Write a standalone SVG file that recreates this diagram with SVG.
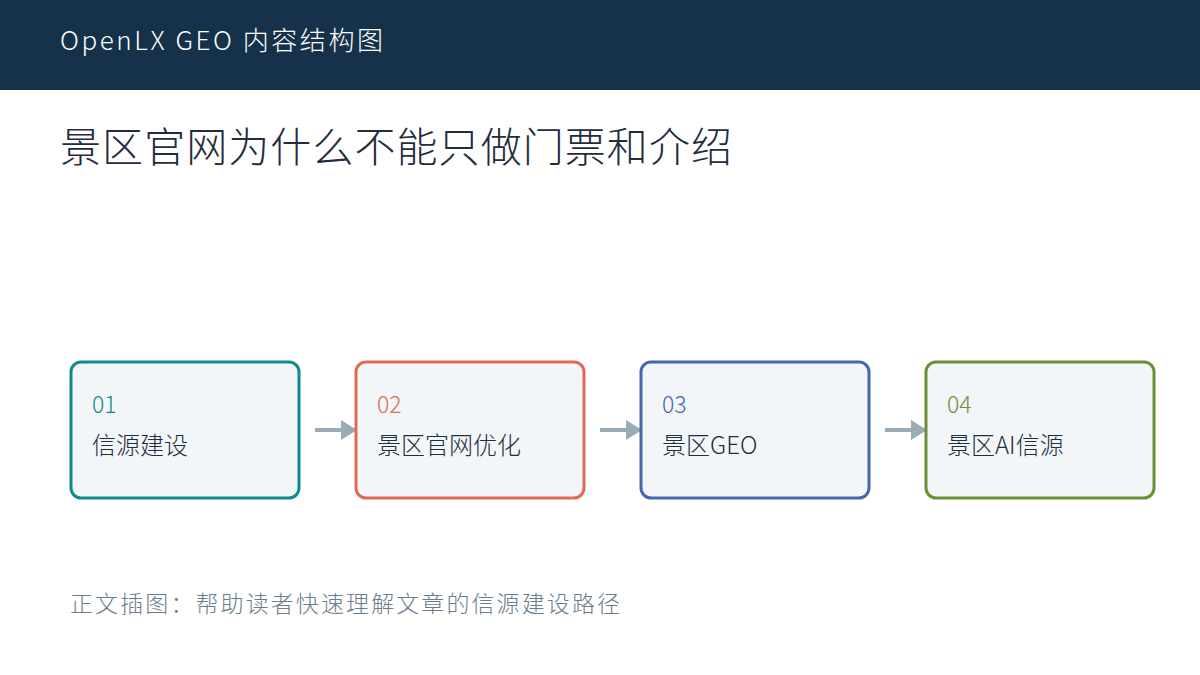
<svg xmlns="http://www.w3.org/2000/svg" width="1200" height="675" viewBox="0 0 1200 675">
<style>
text{font-family:"Noto Sans CJK SC","Noto Sans",sans-serif}
.box{fill:#f2f6f9;stroke-width:3}
.num{font-size:23px;font-weight:300}
.lbl{font-size:24px;fill:#1f2d3d;font-weight:300}
.conn{stroke:#9aabb8;stroke-width:4;fill:none}
</style>
<defs><marker id="ah" markerWidth="4" markerHeight="5" refX="4" refY="2.5" orient="auto" markerUnits="strokeWidth"><path d="M0,0L4,2.5L0,5z" fill="#9aabb8"/></marker></defs>
<rect width="1200" height="675" fill="#fff"/>
<rect width="1200" height="90" fill="#16324a"/>
<text x="60" y="50" font-size="26" fill="#fff" font-weight="300" textLength="323" lengthAdjust="spacing">OpenLX GEO 内容结构图</text>
<text x="60" y="162" font-size="41" fill="#1f2d3d" font-weight="300" textLength="672" lengthAdjust="spacing">景区官网为什么不能只做门票和介绍</text>
<g id="connectors">
<line class="conn" x1="315" y1="430" x2="357" y2="430" marker-end="url(#ah)"/>
<line class="conn" x1="600" y1="430" x2="642" y2="430" marker-end="url(#ah)"/>
<line class="conn" x1="885" y1="430" x2="927" y2="430" marker-end="url(#ah)"/>
</g>
<g id="n1"><rect class="box" x="71" y="362" width="228" height="136" rx="10" stroke="#138a8a"/><text class="num" x="92" y="413" fill="#138a8a">01</text><text class="lbl" x="92" y="454">信源建设</text></g>
<g id="n2"><rect class="box" x="356" y="362" width="228" height="136" rx="10" stroke="#e06a55"/><text class="num" x="377" y="413" fill="#e06a55">02</text><text class="lbl" x="377" y="454">景区官网优化</text></g>
<g id="n3"><rect class="box" x="641" y="362" width="228" height="136" rx="10" stroke="#4766ad"/><text class="num" x="662" y="413" fill="#4766ad">03</text><text class="lbl" x="662" y="454">景区GEO</text></g>
<g id="n4"><rect class="box" x="926" y="362" width="228" height="136" rx="10" stroke="#6e8f3a"/><text class="num" x="947" y="413" fill="#6e8f3a">04</text><text class="lbl" x="947" y="454">景区AI信源</text></g>
<text x="70" y="612" font-size="23" fill="#6b7d8c" font-weight="300" textLength="550" lengthAdjust="spacing">正文插图：帮助读者快速理解文章的信源建设路径</text>
</svg>
